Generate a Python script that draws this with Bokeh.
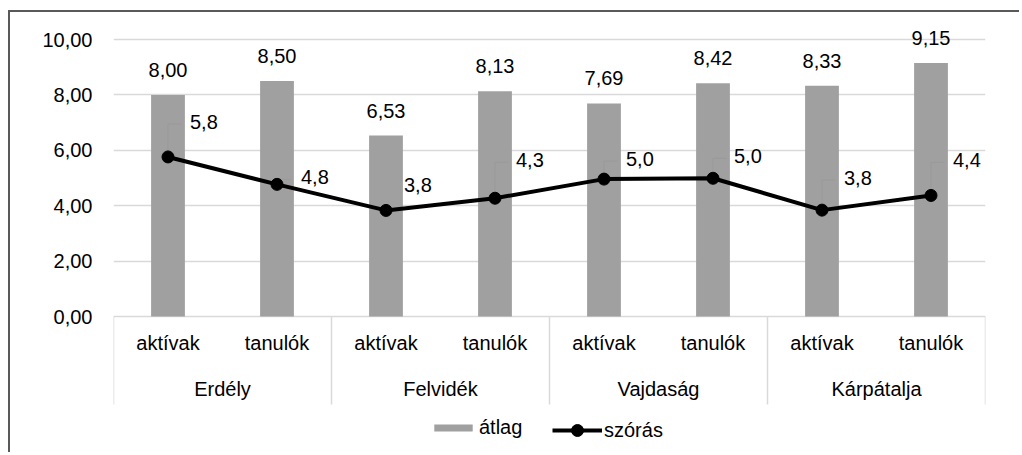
from bokeh.plotting import figure
from bokeh.models import (FactorRange, Range1d, FixedTicker, CustomJSTickFormatter,
                          ColumnDataSource, Legend, LegendItem)
from bokeh.transform import dodge
from bokeh.core.properties import value
from bokeh.embed import file_html
from bokeh.resources import INLINE

# ---- data ----
regions = ["Erdély", "Felvidék", "Vajdaság", "Kárpátalja"]
groups = ["aktívak", "tanulók"]
atlag = [8.00, 8.50, 6.53, 8.13, 7.69, 8.42, 8.33, 9.15]
szoras = [5.76, 4.77, 3.83, 4.27, 4.96, 4.99, 3.84, 4.37]
y_ticks = [0, 2, 4, 6, 8, 10]

# ---- style ----
FONT = "Liberation Sans"
FS = "20px"
BAR_COLOR = "#a0a0a0"
GRID_COLOR = "#d9d9d9"
lbl_dx = [22, 24, 18, 21, 22, 21, 22, 22]      # px offsets of szórás labels
lbl_dy = [-35, -7, -25, -38, -20, -22, -32, -35]
leader_alpha = [1, 1, 0, 1, 1, 1, 1, 1]

W, H = 1011, 442
MB_L, MB_R, MB_T, MB_B = 103, 36, 8, 0
PXU = 27.7
Y1 = 10 + 19 / PXU
Y0 = -138 / PXU
SEP_BOTTOM = -88 / PXU
AXIS_SHIFT = 5.5 / PXU

factors = [(r, g) for r in regions for g in groups]


def fmt(v, d):
    return f"{v:.{d}f}".replace(".", ",")


src = ColumnDataSource(dict(
    x=factors,
    atlag=atlag,
    szoras=szoras,
    atlag_lbl=[fmt(v, 2) for v in atlag],
    szoras_lbl=[fmt(v, 1) for v in szoras],
    dx=lbl_dx,
    dy=lbl_dy,
    lead_y=[s + (-d - 2) / PXU for s, d in zip(szoras, lbl_dy)],
    lead_a=leader_alpha,
))

p = figure(x_range=FactorRange(*factors, range_padding=0, group_padding=0, factor_padding=0),
           y_range=Range1d(Y0, Y1), width=W, height=H,
           output_backend="svg", toolbar_location=None,
           min_border_left=MB_L, min_border_right=MB_R,
           min_border_top=MB_T, min_border_bottom=MB_B)
p.outline_line_color = None
p.styles = {"margin-left": "8px", "margin-top": "10px",
            "border-left": "2px solid #595959", "border-top": "2px solid #595959"}

bars = p.vbar(x='x', top='atlag', width=0.31, source=src,
              fill_color=BAR_COLOR, line_color=None)

# group separators
sep_src = ColumnDataSource(dict(x=[(r, groups[0]) for r in regions]))
p.segment(x0=dodge('x', -0.5, range=p.x_range), y0=0,
          x1=dodge('x', -0.5, range=p.x_range), y1=SEP_BOTTOM,
          source=sep_src, line_color=GRID_COLOR, line_width=1.5)
end_src = ColumnDataSource(dict(x=[(regions[-1], groups[-1])]))
p.segment(x0=dodge('x', 0.5, range=p.x_range), y0=0,
          x1=dodge('x', 0.5, range=p.x_range), y1=SEP_BOTTOM,
          source=end_src, line_color=GRID_COLOR, line_width=1.5)

# leader lines
p.segment(x0='x', y0='szoras', x1='x', y1='lead_y', source=src,
          line_color="#999999", line_width=1, line_alpha='lead_a')
p.segment(x0='x', y0='lead_y', x1=dodge('x', 0.125, range=p.x_range), y1='lead_y',
          source=src, line_color="#999999", line_width=1, line_alpha='lead_a')

ln = p.line(x='x', y='szoras', source=src, line_color="black", line_width=4)
sc = p.scatter(x='x', y='szoras', source=src, size=12,
               fill_color="black", line_color="black")

p.text(x='x', y='atlag', text='atlag_lbl', source=src, text_align='center',
       text_baseline='middle', y_offset=-25, text_font=value(FONT),
       text_font_size=value(FS), text_color="black")
p.text(x='x', y='szoras', text='szoras_lbl', source=src, x_offset='dx', y_offset='dy',
       text_align='left', text_baseline='middle', text_font=value(FONT),
       text_font_size=value(FS), text_color="black")

# axes
ya = p.yaxis[0]
ya.ticker = FixedTicker(ticks=y_ticks)
ya.formatter = CustomJSTickFormatter(code="return tick.toFixed(2).replace('.', ',');")
ya.axis_line_color = None
ya.major_tick_line_color = None
ya.minor_tick_line_color = None
ya.major_tick_out = 0
ya.major_tick_in = 0
ya.major_label_standoff = 21
ya.major_label_text_font = FONT
ya.major_label_text_font_size = FS
ya.major_label_text_color = "black"

p.ygrid.ticker = FixedTicker(ticks=y_ticks)
p.ygrid.grid_line_color = GRID_COLOR
p.ygrid.grid_line_width = 1.5
p.xgrid.visible = False

xa = p.xaxis[0]
xa.fixed_location = AXIS_SHIFT
xa.axis_line_color = None
xa.major_tick_line_color = None
xa.minor_tick_line_color = None
xa.major_tick_out = 0
xa.major_tick_in = 0
xa.separator_line_color = None
xa.major_label_standoff = 21
xa.major_label_text_font = FONT
xa.major_label_text_font_size = FS
xa.major_label_text_color = "black"
xa.group_text_font = FONT
xa.group_text_font_size = FS
xa.group_text_font_style = "normal"
xa.group_text_color = "black"

leg_common = dict(orientation="horizontal", padding=0, margin=0, border_line_color=None,
                  background_fill_alpha=0, label_text_font=FONT,
                  label_text_font_size=FS, label_text_color="black")
leg1 = Legend(items=[LegendItem(label="átlag", renderers=[bars])], location=(316, 15),
              glyph_width=48, glyph_height=9, label_standoff=2, **leg_common)
leg2 = Legend(items=[LegendItem(label="szórás", renderers=[ln, sc])], location=(439, 9),
              glyph_width=50, glyph_height=30, label_standoff=2, **leg_common)
p.add_layout(leg1)
p.add_layout(leg2)

open("out.html", "w").write(file_html(p, INLINE))
